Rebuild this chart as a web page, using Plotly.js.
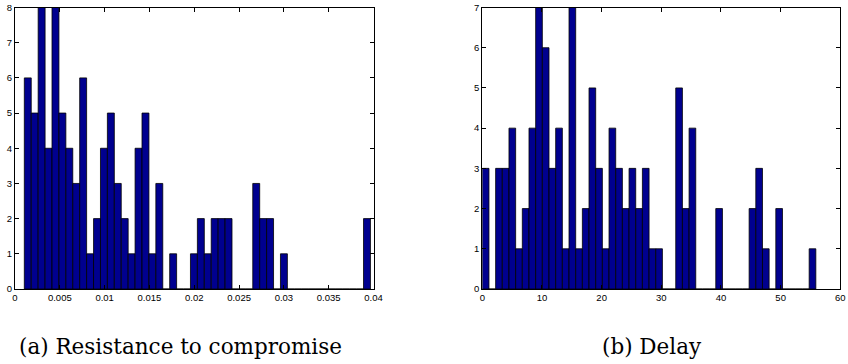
<!DOCTYPE html>
<html>
<head>
<meta charset="utf-8">
<script src="https://cdn.plot.ly/plotly-3.0.1.min.js"></script>
<style>html,body{margin:0;padding:0;background:#fff;}#chart{width:848px;height:364px;}</style>
</head>
<body>
<div id="chart"></div>
<script>
// (a) Resistance to compromise: 50-bin histogram
const resBinStart = 0.00104;
const resBinEnd = 0.03966;
const resCounts = [6,5,8,4,8,5,4,3,6,1, 2,4,5,3,2,1,4,5,1,3, 0,1,0,0,1,2,1,2,2,2, 0,0,0,3,2,2,0,1,0,0, 0,0,0,0,0,0,0,0,0,2];
const resTicks = [0,0.005,0.01,0.015,0.02,0.025,0.03,0.035,0.04];
const resTickLabels = ["0","0.005","0.01","0.015","0.02","0.025","0.03","0.035","0.04"];

// (b) Delay: 50-bin histogram
const delBinStart = 0;
const delBinEnd = 55.9;
const delCounts = [3,0,3,3,4,1,2,4,7,6, 3,4,1,7,1,2,5,3,1,4, 3,2,3,2,3,1,1,0,0,5, 2,4,0,0,0,2,0,0,0,0, 2,3,1,0,2,0,0,0,0,1];
const delTicks = [0,10,20,30,40,50,60];
const delTickLabels = ["0","10","20","30","40","50","60"];

const captions = ["(a) Resistance to compromise", "(b) Delay"];

function centers(start, end, n) {
  const w = (end - start) / n;
  const c = [];
  for (let i = 0; i < n; i++) c.push(start + (i + 0.5) * w);
  return {c: c, w: w};
}
const rc = centers(resBinStart, resBinEnd, resCounts.length);
const dc = centers(delBinStart, delBinEnd, delCounts.length);

const barColor = '#00008F';
const traces = [
  {type:'bar', x: rc.c, y: resCounts, width: rc.w, xaxis:'x', yaxis:'y',
   marker:{color:barColor, line:{color:'#000', width:0.8}}, hoverinfo:'x+y'},
  {type:'bar', x: dc.c, y: delCounts, width: dc.w, xaxis:'x2', yaxis:'y2',
   marker:{color:barColor, line:{color:'#000', width:0.8}}, hoverinfo:'x+y'}
];

const W = 848, H = 364;
const axBase = {
  showline:true, mirror:'ticks', linecolor:'#000', linewidth:1,
  ticks:'inside', ticklen:4, tickcolor:'#000', tickwidth:1,
  showgrid:false, zeroline:false, fixedrange:true,
  tickfont:{family:'Liberation Sans, Arial, sans-serif', size:9.5, color:'#000'}
};
const yDom = [(H - 289) / H, (H - 7.5) / H];

const layout = {
  width: W, height: H,
  margin:{l:0, r:0, t:0, b:0},
  paper_bgcolor:'#fff', plot_bgcolor:'#fff',
  showlegend:false, bargap:0,
  xaxis: Object.assign({}, axBase, {domain:[15/W, 373.5/W], range:[0,0.04],
    tickvals: resTicks, ticktext: resTickLabels, anchor:'y'}),
  yaxis: Object.assign({}, axBase, {domain:yDom, range:[0,8], dtick:1, tick0:0, anchor:'x'}),
  xaxis2: Object.assign({}, axBase, {domain:[482.3/W, 840.3/W], range:[0,60],
    tickvals: delTicks, ticktext: delTickLabels, anchor:'y2'}),
  yaxis2: Object.assign({}, axBase, {domain:yDom, range:[0,7], dtick:1, tick0:0, anchor:'x2'}),
  annotations: [
    {text: captions[0], xref:'paper', yref:'paper', x:180/W, y:(H-346)/H,
     xanchor:'center', yanchor:'middle', showarrow:false,
     font:{family:'DejaVu Serif, serif', size:21.5, color:'#000'}},
    {text: captions[1], xref:'paper', yref:'paper', x:652/W, y:(H-346)/H,
     xanchor:'center', yanchor:'middle', showarrow:false,
     font:{family:'DejaVu Serif, serif', size:21.5, color:'#000'}}
  ]
};

Plotly.newPlot('chart', traces, layout, {staticPlot:true, displayModeBar:false});
</script>
</body>
</html>
